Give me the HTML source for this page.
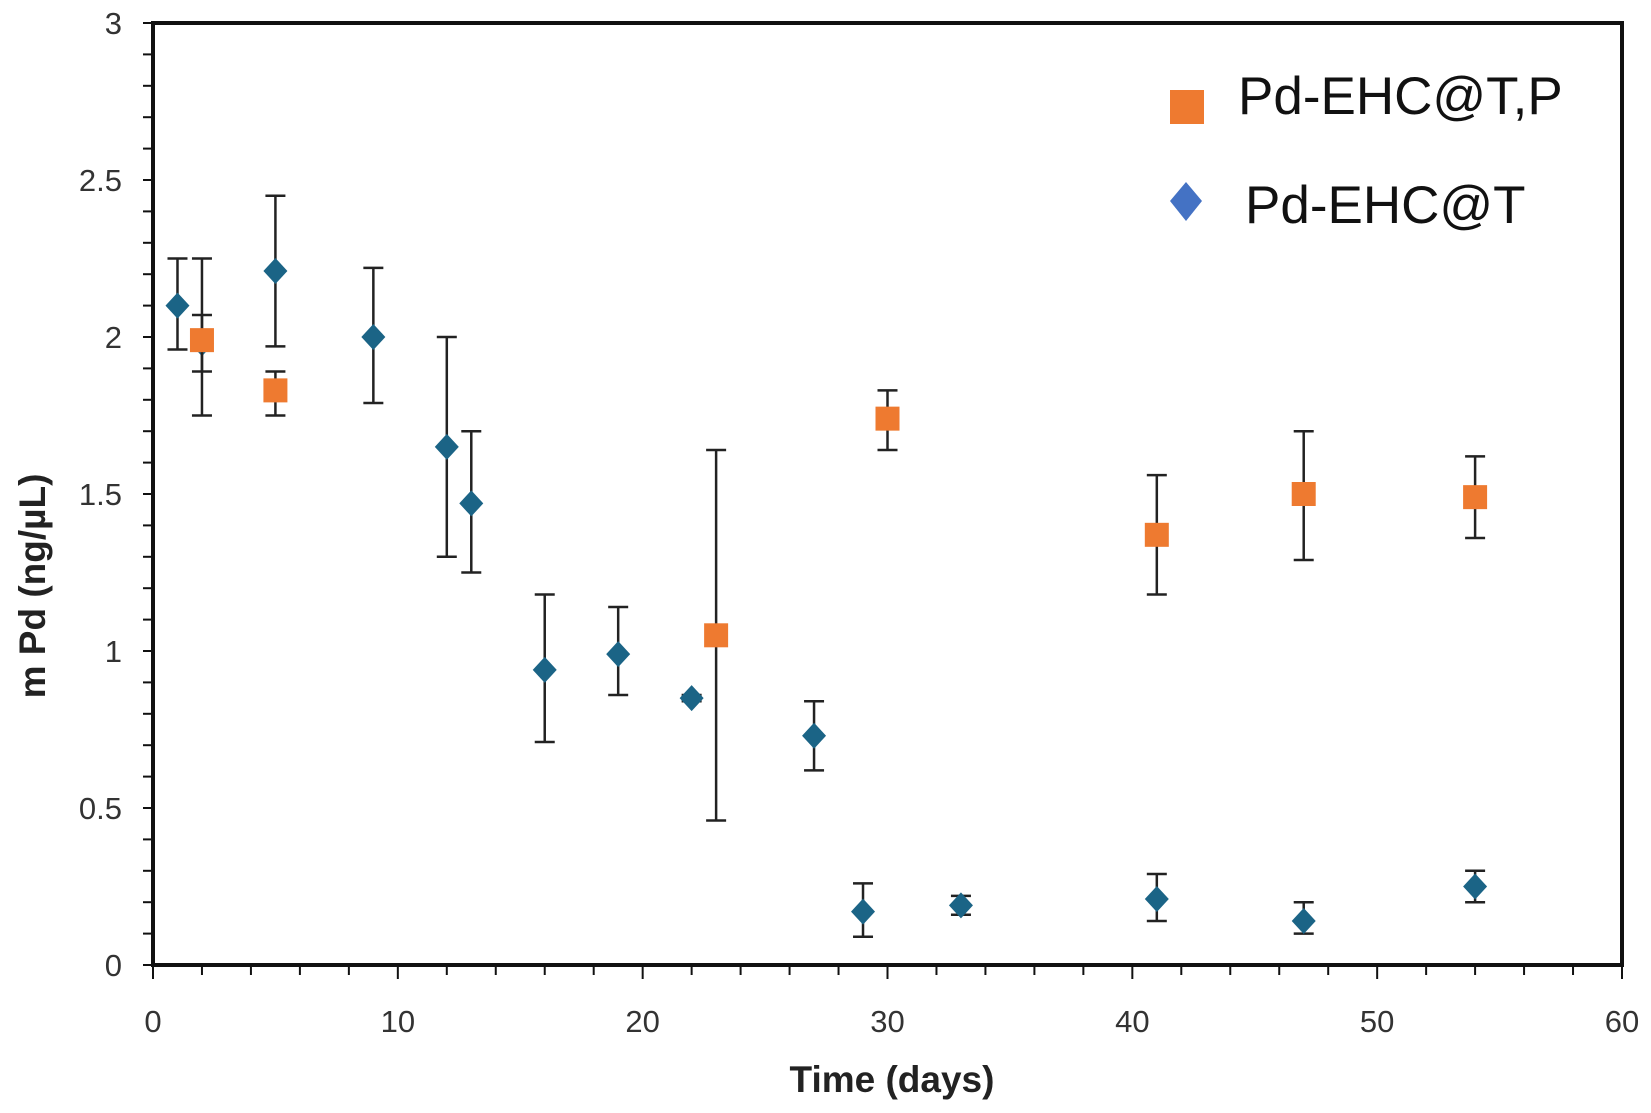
<!DOCTYPE html>
<html><head><meta charset="utf-8"><style>
body{margin:0;background:#fff}
svg text{font-family:"Liberation Sans",Arial,sans-serif}
</style></head><body>
<svg id="chart" width="1651" height="1108" xmlns="http://www.w3.org/2000/svg"></svg>
<script>
const xTicks=[0,10,20,30,40,50,60];
const yTicks=[0,0.5,1,1.5,2,2.5,3];
const yTickLabels=["0","0.5","1","1.5","2","2.5","3"];
const tX=[1,2,5,9,12,13,16,19,22,27,29,33,41,47,54];
const tY=[2.10,1.98,2.21,2.00,1.65,1.47,0.94,0.99,0.85,0.73,0.17,0.19,0.21,0.14,0.25];
const tHi=[2.25,2.25,2.45,2.22,2.00,1.70,1.18,1.14,0.86,0.84,0.26,0.22,0.29,0.20,0.30];
const tLo=[1.96,1.75,1.97,1.79,1.30,1.25,0.71,0.86,0.84,0.62,0.09,0.16,0.14,0.10,0.20];
const pX=[2,5,23,30,41,47,54];
const pY=[1.99,1.83,1.05,1.74,1.37,1.50,1.49];
const pHi=[2.07,1.89,1.64,1.83,1.56,1.70,1.62];
const pLo=[1.89,1.75,0.46,1.64,1.18,1.29,1.36];

const L=153,R=1622,T=23,B=965;
const sx=v=>L+(v-0)/60*(R-L);
const sy=v=>B-(v-0)/3*(B-T);
const svg=document.getElementById('chart');
const NS='http://www.w3.org/2000/svg';
function mk(tag,attrs,parent){const e=document.createElementNS(NS,tag);for(const k in attrs)e.setAttribute(k,attrs[k]);(parent||svg).appendChild(e);return e;}

for(let v=0;v<=3.0001;v+=0.1){const t=mk('line',{x1:L-10,x2:L,y1:sy(v),y2:sy(v),stroke:'#111','stroke-width':2});

}
for(let v=0;v<=60;v+=2){const big=v%10===0;const t=mk('line',{x1:sx(v),x2:sx(v),y1:B,y2:B+(big?14:10),stroke:'#111','stroke-width':2});

}
yTicks.forEach((v,i)=>{const t=mk('text',{x:L-31,y:sy(v)+11,'text-anchor':'end','font-size':31,fill:'#333'});t.textContent=yTickLabels[i];

});
xTicks.forEach(v=>{const t=mk('text',{x:sx(v),y:1032,'text-anchor':'middle','font-size':31,fill:'#333'});t.textContent=v;

});
const fr=mk('rect',{x:L,y:T,width:R-L,height:B-T,fill:'none',stroke:'#111','stroke-width':4});


const yt=mk('text',{x:0,y:0,transform:'translate(45,586) rotate(-90)','text-anchor':'middle','font-size':37,'font-weight':'bold',fill:'#222'});yt.textContent='m Pd (ng/µL)';


const xt=mk('text',{x:892,y:1092,'text-anchor':'middle','font-size':37,'font-weight':'bold',fill:'#222'});xt.textContent='Time (days)';



function errbar(x,hi,lo){const g=mk('g',{stroke:'#222','stroke-width':2.5});


mk('line',{x1:sx(x),x2:sx(x),y1:sy(hi),y2:sy(lo)},g);
mk('line',{x1:sx(x)-10,x2:sx(x)+10,y1:sy(hi),y2:sy(hi)},g);
mk('line',{x1:sx(x)-10,x2:sx(x)+10,y1:sy(lo),y2:sy(lo)},g);}
tX.forEach((x,i)=>errbar(x,tHi[i],tLo[i]));
tX.forEach((x,i)=>{const cx=sx(x),cy=sy(tY[i]),r=13;
const d=mk('polygon',{points:`${cx},${cy-r} ${cx+r-1},${cy} ${cx},${cy+r} ${cx-r+1},${cy}`,fill:'#1b6486'});

});
pX.forEach((x,i)=>errbar(x,pHi[i],pLo[i]));
pX.forEach((x,i)=>{const cx=sx(x),cy=sy(pY[i]);
const s=mk('rect',{x:cx-12,y:cy-12,width:24,height:24,fill:'#ee7a30'});

});

const lg=mk('g',{});


mk('rect',{x:1170,y:90,width:34,height:34,fill:'#ee7a30'},lg);
const l1=mk('text',{x:1238,y:114,'font-size':53,fill:'#111'},lg);l1.textContent='Pd-EHC@T,P';


mk('polygon',{points:'1186,182 1202,201 1186,221 1170,201',fill:'#4472c4'},lg);
const l2=mk('text',{x:1245,y:223,'font-size':53,fill:'#111'},lg);l2.textContent='Pd-EHC@T';


</script>
</body></html>
